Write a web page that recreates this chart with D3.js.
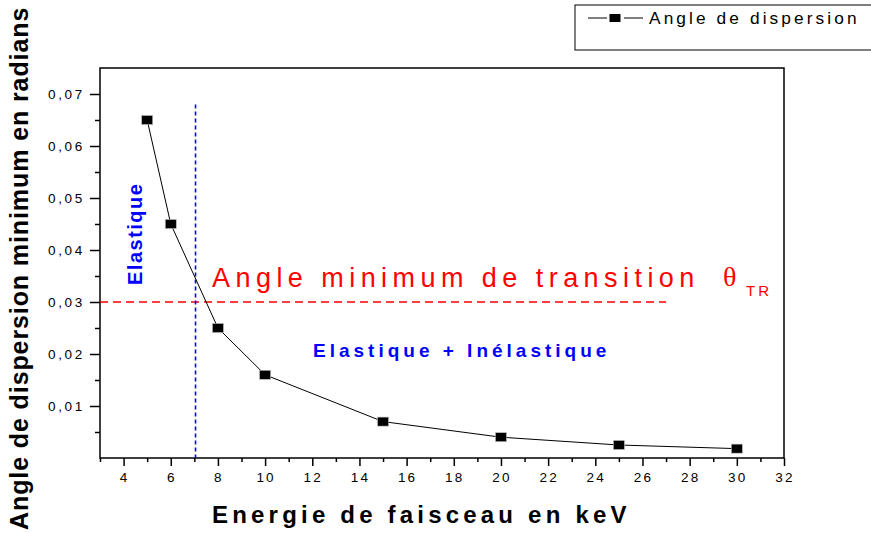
<!DOCTYPE html>
<html><head><meta charset="utf-8">
<script src="https://cdn.jsdelivr.net/npm/d3@7"></script>
<style>body{margin:0;background:#fff}svg{display:block}</style>
</head><body><svg id="c" width="871" height="533"></svg>
<script>
const energies = [5, 6, 8, 10, 15, 20, 25, 30];
const angles = [0.065, 0.045, 0.025, 0.016, 0.007, 0.004, 0.0025, 0.0018];
const xMajorTicks = [4, 6, 8, 10, 12, 14, 16, 18, 20, 22, 24, 26, 28, 30, 32];
const xMinorTicks = [3, 5, 7, 9, 11, 13, 15, 17, 19, 21, 23, 25, 27, 29, 31];
const yMajorTicks = [0.01, 0.02, 0.03, 0.04, 0.05, 0.06, 0.07];
const yTickLabels = ["0,01", "0,02", "0,03", "0,04", "0,05", "0,06", "0,07"];
const yMinorTicks = [0.005, 0.015, 0.025, 0.035, 0.045, 0.055, 0.065];
const transitionAngle = 0.03;
const transitionLineEnd = 27;
const limitEnergy = 7.05;
const limitLineTop = 0.068;
const seriesName = "Angle de dispersion";
const xTitle = "Energie de faisceau en keV";
const yTitle = "Angle de dispersion minimum en radians";

const svg = d3.select("#c");
const x = d3.scaleLinear().domain([3, 32]).range([100, 784]);
const y = d3.scaleLinear().domain([0, 0.075]).range([458, 68]);
const F = "Liberation Sans, Arial, sans-serif";

// plot frame
svg.append("rect").attr("x", x(3)).attr("y", y(0.075))
  .attr("width", x(32) - x(3)).attr("height", y(0) - y(0.075))
  .attr("fill", "none").attr("stroke", "#000").attr("stroke-width", 1.5);

// x axis
const xAxisG = svg.append("g").attr("transform", `translate(0,${y(0)})`);
xAxisG.call(d3.axisBottom(x).tickValues(xMajorTicks).tickSize(8).tickFormat(""));
xAxisG.call(g => g.select(".domain").remove());
xAxisG.selectAll(".tick line").attr("stroke-width", 1.5);
const xMinorG = svg.append("g").attr("transform", `translate(0,${y(0)})`);
xMinorG.call(d3.axisBottom(x).tickValues(xMinorTicks).tickSize(4).tickFormat(""));
xMinorG.call(g => g.select(".domain").remove());
xMinorG.selectAll(".tick line").attr("stroke-width", 1.5);
svg.append("g").selectAll("text").data(xMajorTicks).join("text")
  .attr("x", d => x(d) + 1).attr("y", 482).attr("text-anchor", "middle")
  .attr("font-family", F).attr("font-size", 13.5).attr("letter-spacing", 2.2)
  .text(d => d);

// y axis
const yAxisG = svg.append("g").attr("transform", `translate(${x(3)},0)`);
yAxisG.call(d3.axisLeft(y).tickValues(yMajorTicks).tickSize(10).tickFormat(""));
yAxisG.call(g => g.select(".domain").remove());
yAxisG.selectAll(".tick line").attr("stroke-width", 1.5);
const yMinorG = svg.append("g").attr("transform", `translate(${x(3)},0)`);
yMinorG.call(d3.axisLeft(y).tickValues(yMinorTicks).tickSize(5).tickFormat(""));
yMinorG.call(g => g.select(".domain").remove());
yMinorG.selectAll(".tick line").attr("stroke-width", 1.5);
svg.append("g").selectAll("text").data(yMajorTicks).join("text")
  .attr("x", 85).attr("y", d => y(d) + 5).attr("text-anchor", "end")
  .attr("font-family", F).attr("font-size", 13.5).attr("letter-spacing", 2.7)
  .text((d, i) => yTickLabels[i]);

// reference lines
svg.append("line").attr("x1", x(3)).attr("x2", x(transitionLineEnd))
  .attr("y1", y(transitionAngle)).attr("y2", y(transitionAngle))
  .attr("stroke", "#ff0000").attr("stroke-width", 1.3).attr("stroke-dasharray", "8,5");
svg.append("line").attr("x1", x(limitEnergy)).attr("x2", x(limitEnergy))
  .attr("y1", y(limitLineTop)).attr("y2", y(0))
  .attr("stroke", "#0000ff").attr("stroke-width", 1.6).attr("stroke-dasharray", "4,3");

// series
const line = d3.line().x((d, i) => x(energies[i])).y(d => y(d));
svg.append("path").datum(angles).attr("d", line)
  .attr("fill", "none").attr("stroke", "#000").attr("stroke-width", 1);
svg.append("g").selectAll("rect").data(angles).join("rect")
  .attr("x", (d, i) => x(energies[i]) - 5.5).attr("y", d => y(d) - 4.5)
  .attr("width", 11).attr("height", 9).attr("fill", "#000")
  .attr("stroke", "#bbb").attr("stroke-width", 0.6);

// annotations
svg.append("text").attr("x", 212).attr("y", 287)
  .attr("font-family", F).attr("font-size", 27).attr("fill", "#ff0000")
  .attr("letter-spacing", 5.45).text("Angle minimum de transition");
svg.append("text").attr("x", 723).attr("y", 286)
  .attr("font-family", "Liberation Serif, serif").attr("font-size", 28).attr("fill", "#ff0000")
  .text("θ");
svg.append("text").attr("x", 746).attr("y", 296)
  .attr("font-family", F).attr("font-size", 15).attr("fill", "#ff0000")
  .attr("letter-spacing", 3).text("TR");

svg.append("text").attr("x", 313).attr("y", 357)
  .attr("font-family", F).attr("font-size", 19).attr("font-weight", "bold")
  .attr("letter-spacing", 4).attr("fill", "#0000ff").text("Elastique + Inélastique");

svg.append("text").attr("transform", "translate(142,285) rotate(-90)")
  .attr("font-family", F).attr("font-size", 20).attr("font-weight", "bold")
  .attr("letter-spacing", 1.5).attr("fill", "#0000ff").text("Elastique");

// axis titles
svg.append("text").attr("x", 212).attr("y", 523)
  .attr("font-family", F).attr("font-size", 24).attr("font-weight", "bold")
  .attr("letter-spacing", 4.2).text(xTitle);
svg.append("text").attr("transform", "translate(28,530) rotate(-90)")
  .attr("font-family", F).attr("font-size", 25).attr("font-weight", "bold")
  .attr("letter-spacing", 0.9).text(yTitle);

// legend
svg.append("rect").attr("x", 575).attr("y", 5).attr("width", 320).attr("height", 45)
  .attr("fill", "none").attr("stroke", "#000").attr("stroke-width", 1);
svg.append("line").attr("x1", 588).attr("x2", 607).attr("y1", 18).attr("y2", 18)
  .attr("stroke", "#000").attr("stroke-width", 1);
svg.append("line").attr("x1", 624).attr("x2", 643).attr("y1", 18).attr("y2", 18)
  .attr("stroke", "#000").attr("stroke-width", 1);
svg.append("rect").attr("x", 609.5).attr("y", 14).attr("width", 11).attr("height", 8).attr("fill", "#000");
svg.append("text").attr("x", 649).attr("y", 24)
  .attr("font-family", F).attr("font-size", 17.3).attr("letter-spacing", 3.1).text(seriesName);
</script></body></html>
